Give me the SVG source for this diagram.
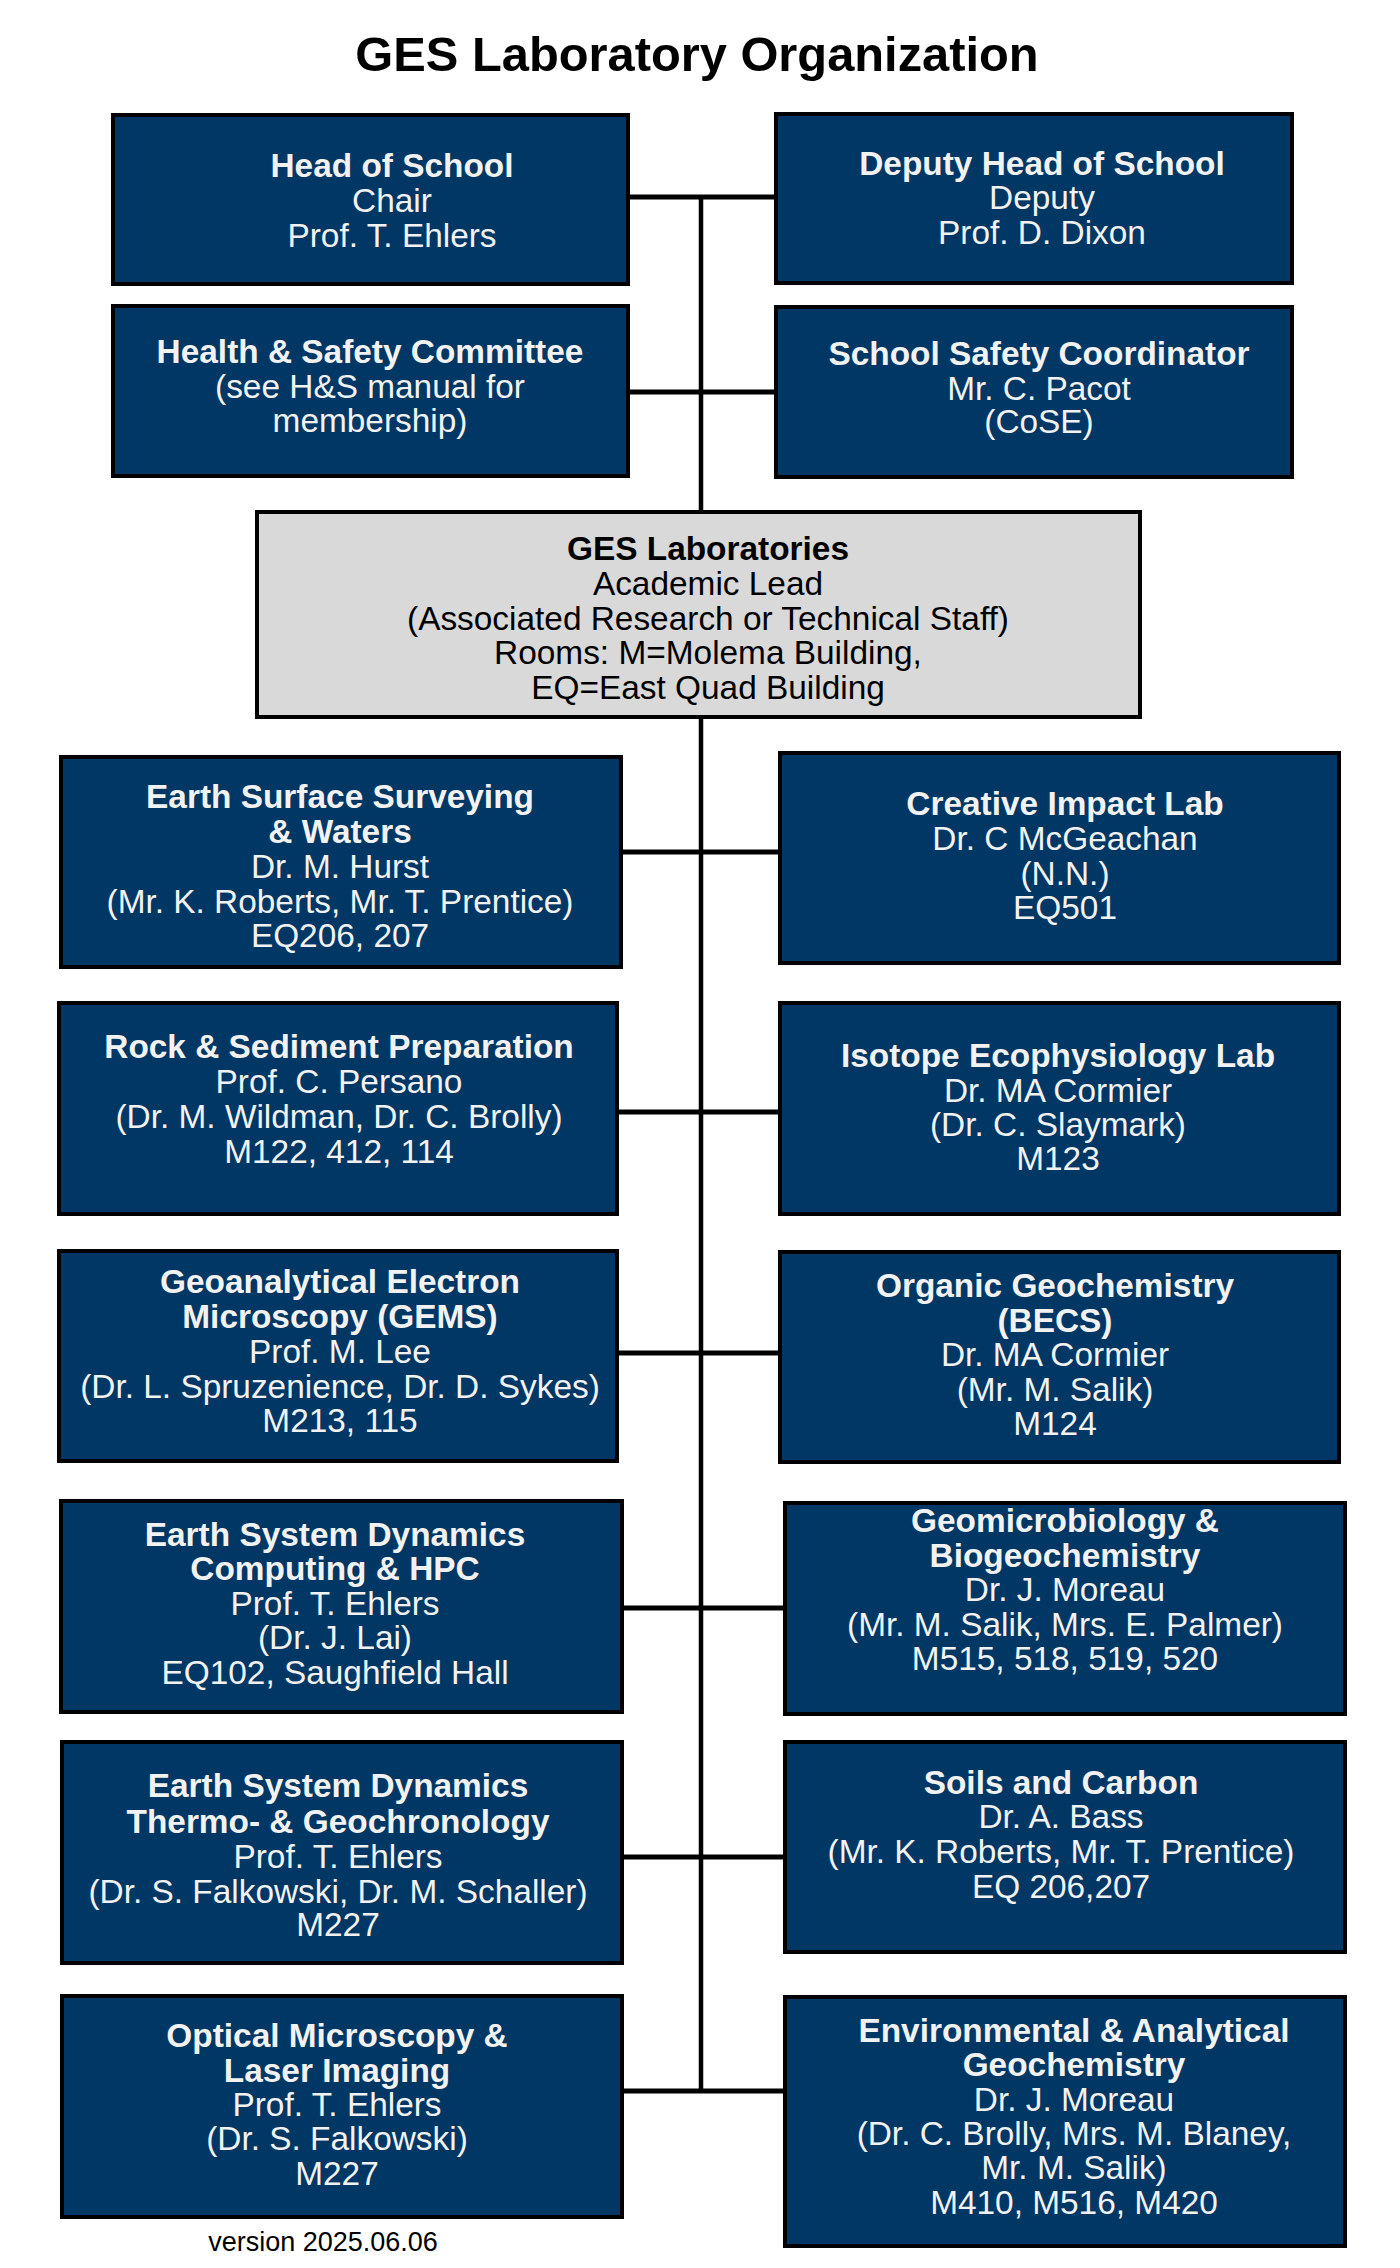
<svg xmlns="http://www.w3.org/2000/svg" width="1400" height="2268" viewBox="0 0 1400 2268">
<style>
.box{fill:#003764;stroke:#000;stroke-width:4}
.gbox{fill:#d9d9d9;stroke:#000;stroke-width:4}
text{font-family:"Liberation Sans",Arial,sans-serif;text-anchor:middle}
.t{fill:#f2f2f2;font-size:33.4px}
.k{fill:#000;font-size:33.4px}
.b{font-weight:bold}
.conn line{stroke:#000;stroke-width:5}
</style>
<rect width="1400" height="2268" fill="#fff"/>
<text x="697" y="71" style="font-size:48.8px;font-weight:bold" fill="#000">GES Laboratory Organization</text>
<g id="connectors" class="conn">
<line x1="701" y1="195" x2="701" y2="2093" style="stroke-width:4.5"/>
<line x1="628" y1="197" x2="776" y2="197"/>
<line x1="628" y1="392" x2="776" y2="392"/>
<line x1="621" y1="852" x2="780" y2="852"/>
<line x1="617" y1="1112" x2="780" y2="1112"/>
<line x1="617" y1="1353" x2="780" y2="1353"/>
<line x1="622" y1="1608" x2="785" y2="1608"/>
<line x1="622" y1="1857" x2="785" y2="1857"/>
<line x1="622" y1="2091" x2="785" y2="2091"/>
</g>
<g id="head">
<rect class="box" x="113" y="115" width="515" height="169"/>
<text class="t b" x="392" y="177">Head of School</text>
<text class="t" x="392" y="212">Chair</text>
<text class="t" x="392" y="247">Prof. T. Ehlers</text>
</g>
<g id="deputy">
<rect class="box" x="776" y="114" width="516" height="169"/>
<text class="t b" x="1042" y="175">Deputy Head of School</text>
<text class="t" x="1042" y="209">Deputy</text>
<text class="t" x="1042" y="244">Prof. D. Dixon</text>
</g>
<g id="hs-committee">
<rect class="box" x="113" y="306" width="515" height="170"/>
<text class="t b" x="370" y="363">Health &amp; Safety Committee</text>
<text class="t" x="370" y="398">(see H&amp;S manual for</text>
<text class="t" x="370" y="432">membership)</text>
</g>
<g id="safety-coordinator">
<rect class="box" x="776" y="307" width="516" height="170"/>
<text class="t b" x="1039" y="365">School Safety Coordinator</text>
<text class="t" x="1039" y="400">Mr. C. Pacot</text>
<text class="t" x="1039" y="433">(CoSE)</text>
</g>
<g id="ges-labs">
<rect class="gbox" x="257" y="512" width="883" height="205"/>
<text class="k b" x="708" y="560">GES Laboratories</text>
<text class="k" x="708" y="595">Academic Lead</text>
<text class="k" x="708" y="630">(Associated Research or Technical Staff)</text>
<text class="k" x="708" y="664">Rooms: M=Molema Building,</text>
<text class="k" x="708" y="699">EQ=East Quad Building</text>
</g>
<g id="earth-surface">
<rect class="box" x="61" y="757" width="560" height="210"/>
<text class="t b" x="340" y="808">Earth Surface Surveying</text>
<text class="t b" x="340" y="843">&amp; Waters</text>
<text class="t" x="340" y="878">Dr. M. Hurst</text>
<text class="t" x="340" y="913">(Mr. K. Roberts, Mr. T. Prentice)</text>
<text class="t" x="340" y="947">EQ206, 207</text>
</g>
<g id="creative-impact">
<rect class="box" x="780" y="753" width="559" height="210"/>
<text class="t b" x="1065" y="815">Creative Impact Lab</text>
<text class="t" x="1065" y="850">Dr. C McGeachan</text>
<text class="t" x="1065" y="885">(N.N.)</text>
<text class="t" x="1065" y="919">EQ501</text>
</g>
<g id="rock-sediment">
<rect class="box" x="59" y="1003" width="558" height="211"/>
<text class="t b" x="339" y="1058">Rock &amp; Sediment Preparation</text>
<text class="t" x="339" y="1093">Prof. C. Persano</text>
<text class="t" x="339" y="1128">(Dr. M. Wildman, Dr. C. Brolly)</text>
<text class="t" x="339" y="1163">M122, 412, 114</text>
</g>
<g id="isotope">
<rect class="box" x="780" y="1003" width="559" height="211"/>
<text class="t b" x="1058" y="1067">Isotope Ecophysiology Lab</text>
<text class="t" x="1058" y="1102">Dr. MA Cormier</text>
<text class="t" x="1058" y="1136">(Dr. C. Slaymark)</text>
<text class="t" x="1058" y="1170">M123</text>
</g>
<g id="gems">
<rect class="box" x="59" y="1251" width="558" height="210"/>
<text class="t b" x="340" y="1293">Geoanalytical Electron</text>
<text class="t b" x="340" y="1328">Microscopy (GEMS)</text>
<text class="t" x="340" y="1363">Prof. M. Lee</text>
<text class="t" x="340" y="1398">(Dr. L. Spruzenience, Dr. D. Sykes)</text>
<text class="t" x="340" y="1432">M213, 115</text>
</g>
<g id="organic">
<rect class="box" x="780" y="1252" width="559" height="210"/>
<text class="t b" x="1055" y="1297">Organic Geochemistry</text>
<text class="t b" x="1055" y="1332">(BECS)</text>
<text class="t" x="1055" y="1366">Dr. MA Cormier</text>
<text class="t" x="1055" y="1401">(Mr. M. Salik)</text>
<text class="t" x="1055" y="1435">M124</text>
</g>
<g id="esd-computing">
<rect class="box" x="61" y="1501" width="561" height="211"/>
<text class="t b" x="335" y="1546">Earth System Dynamics</text>
<text class="t b" x="335" y="1580">Computing &amp; HPC</text>
<text class="t" x="335" y="1615">Prof. T. Ehlers</text>
<text class="t" x="335" y="1649">(Dr. J. Lai)</text>
<text class="t" x="335" y="1684">EQ102, Saughfield Hall</text>
</g>
<g id="geomicro">
<rect class="box" x="785" y="1503" width="560" height="211"/>
<text class="t b" x="1065" y="1532">Geomicrobiology &amp;</text>
<text class="t b" x="1065" y="1567">Biogeochemistry</text>
<text class="t" x="1065" y="1601">Dr. J. Moreau</text>
<text class="t" x="1065" y="1636">(Mr. M. Salik, Mrs. E. Palmer)</text>
<text class="t" x="1065" y="1670">M515, 518, 519, 520</text>
</g>
<g id="esd-thermo">
<rect class="box" x="62" y="1742" width="560" height="221"/>
<text class="t b" x="338" y="1797">Earth System Dynamics</text>
<text class="t b" x="338" y="1833">Thermo- &amp; Geochronology</text>
<text class="t" x="338" y="1868">Prof. T. Ehlers</text>
<text class="t" x="338" y="1903">(Dr. S. Falkowski, Dr. M. Schaller)</text>
<text class="t" x="338" y="1936">M227</text>
</g>
<g id="soils">
<rect class="box" x="785" y="1742" width="560" height="210"/>
<text class="t b" x="1061" y="1794">Soils and Carbon</text>
<text class="t" x="1061" y="1828">Dr. A. Bass</text>
<text class="t" x="1061" y="1863">(Mr. K. Roberts, Mr. T. Prentice)</text>
<text class="t" x="1061" y="1898">EQ 206,207</text>
</g>
<g id="optical">
<rect class="box" x="62" y="1996" width="560" height="221"/>
<text class="t b" x="337" y="2047">Optical Microscopy &amp;</text>
<text class="t b" x="337" y="2082">Laser Imaging</text>
<text class="t" x="337" y="2116">Prof. T. Ehlers</text>
<text class="t" x="337" y="2150">(Dr. S. Falkowski)</text>
<text class="t" x="337" y="2185">M227</text>
</g>
<g id="environmental">
<rect class="box" x="785" y="1997" width="560" height="249"/>
<text class="t b" x="1074" y="2042">Environmental &amp; Analytical</text>
<text class="t b" x="1074" y="2076">Geochemistry</text>
<text class="t" x="1074" y="2111">Dr. J. Moreau</text>
<text class="t" x="1074" y="2145">(Dr. C. Brolly, Mrs. M. Blaney,</text>
<text class="t" x="1074" y="2179">Mr. M. Salik)</text>
<text class="t" x="1074" y="2214">M410, M516, M420</text>
</g>
<text x="323" y="2251" style="font-size:27px" fill="#000">version 2025.06.06</text>
</svg>
